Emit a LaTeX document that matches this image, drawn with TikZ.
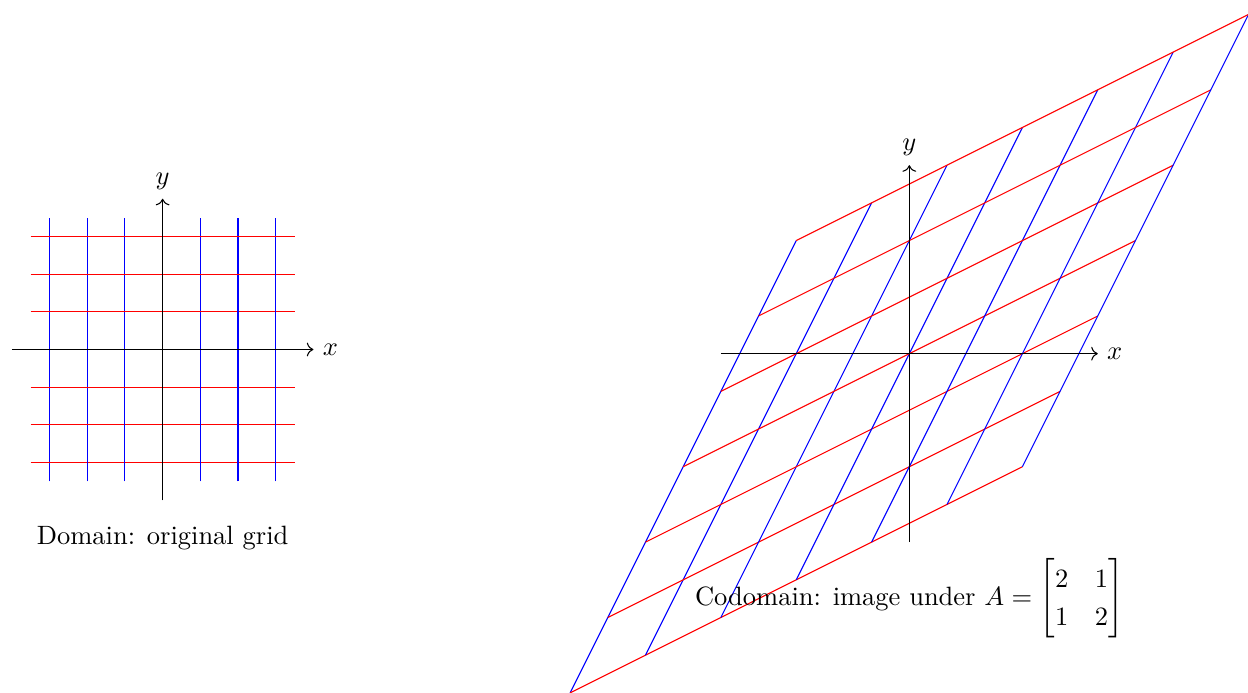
\documentclass[tikz,border=0pt]{standalone}
\usepackage{amsmath}
\usetikzlibrary{arrows.meta}

\begin{document}
\begin{tikzpicture}[x=.5cm,y=.5cm,gridv/.style={draw=blue},gridh/.style={draw=red},axisline/.style={draw=black,->}]
  \path[use as bounding box] (-4.315,-9.087) rectangle (28.795,9.273);
  % domain
  \foreach \i in {-3,...,3}{\draw[gridv] (\i,-3.5) -- (\i,3.5); \draw[gridh] (-3.5,\i) -- (3.5,\i);}
  \draw[axisline] (-4,0) -- (4,0) node[right] (domx) {$x$};
  \draw[axisline] (0,-4) -- (0,4) node[above] (domy) {$y$};
  \node (domlabel) at (0,-5) {Domain: original grid};
  % codomain
  \begin{scope}[shift={(19.81,-.11)}]
    \begin{scope}[cm={2,1,1,2,(0,0)}]
      \foreach \i in {-3,...,3}{\draw[gridv] (\i,-3) -- (\i,3); \draw[gridh] (-3,\i) -- (3,\i);}
    \end{scope}
    \draw[axisline] (-5,0) -- (5,0) node[right] (codx) {$x$};
    \draw[axisline] (0,-5) -- (0,5) node[above] (cody) {$y$};
    \node (codlabel) at (0,-6.5) {\renewcommand{\arraystretch}{1.2}Codomain: image under $A=\begin{bmatrix}2&1\\1&2\end{bmatrix}$};
  \end{scope}
\end{tikzpicture}
\end{document}
